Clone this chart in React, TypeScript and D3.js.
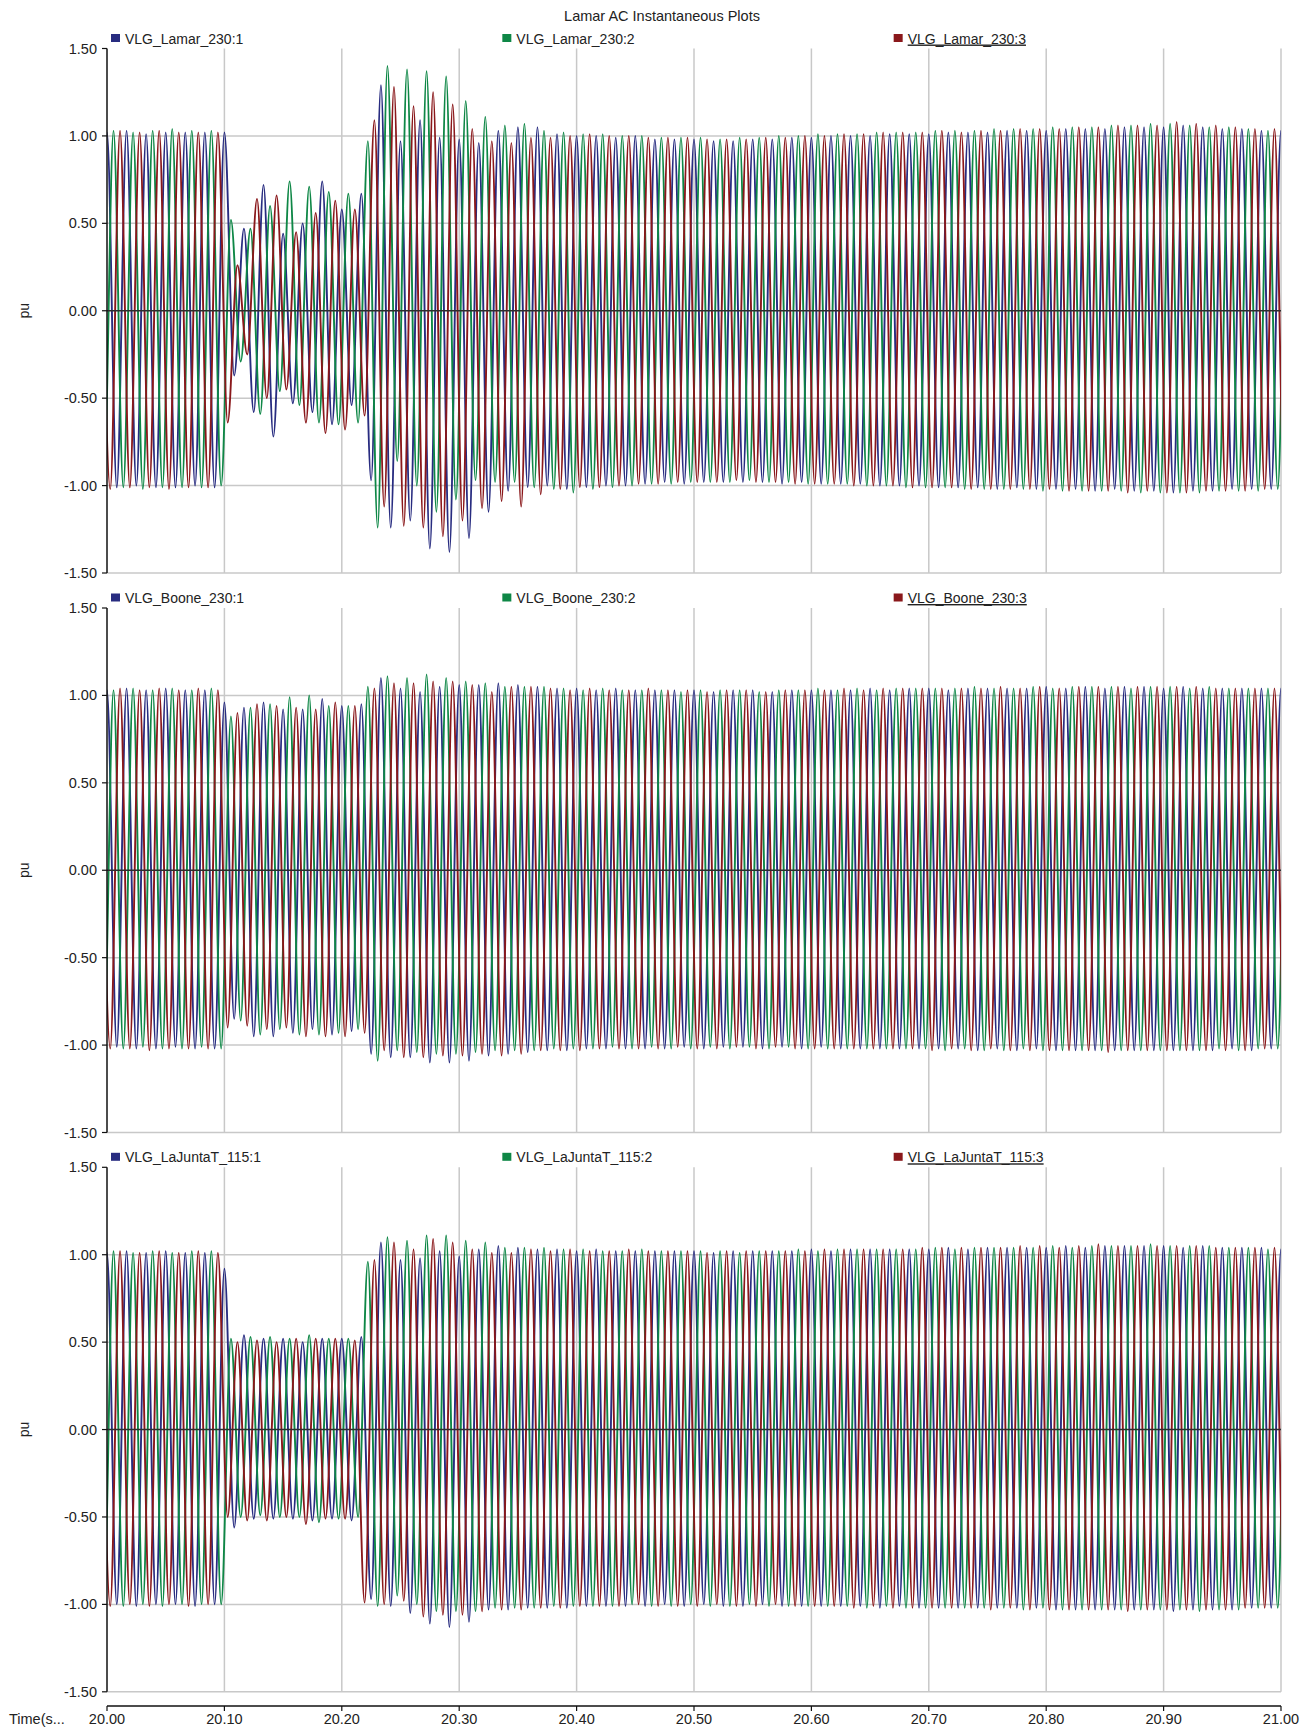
import React from "react";
import * as d3 from "d3";

// chart text
const chartTitle = "Lamar AC Instantaneous Plots";
const lamarNames = ["VLG_Lamar_230:1", "VLG_Lamar_230:2", "VLG_Lamar_230:3"];
const booneNames = ["VLG_Boone_230:1", "VLG_Boone_230:2", "VLG_Boone_230:3"];
const lajuntaNames = ["VLG_LaJuntaT_115:1", "VLG_LaJuntaT_115:2", "VLG_LaJuntaT_115:3"];
const yAxisLabel = "pu";
const xAxisLabel = "Time(s...";

const xTicks = [20.0, 20.1, 20.2, 20.3, 20.4, 20.5, 20.6, 20.7, 20.8, 20.9, 21.0];
const yTicks = [1.5, 1.0, 0.5, 0.0, -0.5, -1.0, -1.5];

// sampling of the traces: one value per half cycle (the crests and troughs),
// 60 Hz, phases 1/3 cycle apart; first listed value sits 1 cycle before 20.00
const startTime = 20.0;
const fundamentalHz = 60;
const phaseLagCycles = [0, 1 / 3, 2 / 3];

// crest/trough values (alternating +/-), 124 per phase
const lamarPh1 = [
  1.02, -1.01, 1.02, -1.01, 1.03, -1.00, 1.01, -1.01, 1.02, -1.01, 1.02, -1.00,
  1.02, -1.01, 1.02, -0.37, 0.47, -0.58, 0.72, -0.72, 0.44, -0.53, 0.50, -0.58,
  0.74, -0.65, 0.58, -0.54, 0.67, -0.97, 1.29, -1.24, 0.97, -1.20, 1.09, -1.36,
  0.99, -1.38, 0.98, -1.30, 0.96, -1.15, 1.03, -1.03, 1.05, -1.01, 1.05, -1.00,
  1.01, -1.02, 1.00, -1.01, 1.00, -1.00, 0.99, -1.00, 1.00, -0.99, 0.98, -0.98,
  0.98, -0.99, 0.98, -0.98, 0.97, -0.98, 0.97, -0.98, 0.98, -0.98, 0.98, -0.99,
  0.99, -0.98, 0.99, -0.99, 1.00, -0.99, 1.00, -0.99, 1.00, -1.00, 1.01, -1.00,
  1.01, -1.00, 1.01, -1.01, 1.02, -1.01, 1.02, -1.01, 1.02, -1.02, 1.03, -1.01,
  1.03, -1.02, 1.03, -1.02, 1.04, -1.02, 1.04, -1.03, 1.04, -1.02, 1.05, -1.03,
  1.05, -1.03, 1.05, -1.04, 1.06, -1.03, 1.05, -1.03, 1.04, -1.02, 1.04, -1.02,
  1.03, -1.02, 1.03, -1.02,
];
const lamarPh2 = [
  1.03, -1.01, 1.03, -1.01, 1.02, -1.02, 1.03, -1.01, 1.04, -1.01, 1.03, -1.01,
  1.03, -1.00, 0.52, -0.29, 0.47, -0.59, 0.60, -0.46, 0.74, -0.54, 0.71, -0.64,
  0.68, -0.65, 0.67, -0.64, 0.97, -1.24, 1.40, -0.86, 1.38, -1.00, 1.37, -1.15,
  1.34, -1.08, 1.20, -0.97, 1.11, -0.98, 1.06, -0.98, 1.07, -1.01, 1.03, -1.02,
  1.02, -1.04, 1.01, -1.02, 1.01, -1.01, 1.00, -1.00, 1.00, -0.99, 0.99, -0.99,
  0.99, -0.98, 0.99, -0.98, 0.98, -0.98, 0.99, -0.97, 0.99, -0.98, 1.00, -0.98,
  1.00, -0.99, 1.01, -0.99, 1.01, -0.99, 1.01, -1.00, 1.02, -1.00, 1.02, -1.01,
  1.02, -1.01, 1.03, -1.01, 1.03, -1.02, 1.03, -1.02, 1.04, -1.02, 1.04, -1.02,
  1.04, -1.03, 1.05, -1.03, 1.05, -1.03, 1.05, -1.03, 1.06, -1.03, 1.06, -1.04,
  1.07, -1.04, 1.07, -1.04, 1.06, -1.04, 1.05, -1.03, 1.05, -1.03, 1.04, -1.03,
  1.03, -1.02, 1.03, -1.02,
];
const lamarPh3 = [
  1.02, -1.02, 1.03, -1.01, 1.02, -1.01, 1.03, -1.02, 1.02, -1.01, 1.02, -1.01,
  1.02, -0.64, 0.26, -0.25, 0.64, -0.50, 0.66, -0.45, 0.45, -0.64, 0.56, -0.70,
  0.63, -0.68, 0.58, -0.60, 1.09, -1.12, 1.28, -1.23, 1.17, -1.24, 1.25, -1.29,
  1.18, -1.20, 1.04, -1.13, 0.97, -1.09, 0.96, -1.12, 0.99, -1.05, 0.99, -1.02,
  1.00, -1.01, 1.01, -1.01, 1.00, -1.00, 1.00, -0.99, 0.99, -0.99, 0.99, -0.98,
  0.99, -0.98, 0.98, -0.98, 0.98, -0.97, 0.98, -0.98, 0.99, -0.98, 0.99, -0.99,
  1.00, -0.99, 1.00, -0.99, 1.01, -1.00, 1.01, -1.00, 1.02, -1.00, 1.02, -1.01,
  1.02, -1.01, 1.03, -1.01, 1.02, -1.02, 1.03, -1.02, 1.03, -1.02, 1.04, -1.02,
  1.04, -1.02, 1.04, -1.03, 1.05, -1.03, 1.05, -1.03, 1.06, -1.04, 1.06, -1.03,
  1.06, -1.04, 1.08, -1.04, 1.07, -1.03, 1.06, -1.03, 1.05, -1.03, 1.04, -1.02,
  1.04, -1.02, 1.03, -1.02,
];

const boonePh1 = [
  1.03, -1.02, 1.03, -1.01, 1.04, -1.02, 1.03, -1.02, 1.04, -1.01, 1.03, -1.02,
  1.03, -1.02, 0.96, -0.85, 0.93, -0.95, 0.96, -0.95, 0.92, -0.93, 0.92, -0.91,
  0.98, -0.94, 0.94, -0.92, 0.95, -1.05, 1.10, -1.07, 1.04, -1.07, 1.02, -1.10,
  1.05, -1.10, 1.06, -1.09, 1.06, -1.06, 1.07, -1.05, 1.06, -1.04, 1.05, -1.03,
  1.04, -1.03, 1.04, -1.02, 1.03, -1.02, 1.04, -1.02, 1.03, -1.02, 1.03, -1.02,
  1.03, -1.01, 1.03, -1.02, 1.02, -1.01, 1.03, -1.01, 1.03, -1.02, 1.02, -1.01,
  1.03, -1.02, 1.03, -1.01, 1.03, -1.02, 1.03, -1.02, 1.04, -1.02, 1.03, -1.02,
  1.04, -1.02, 1.04, -1.02, 1.03, -1.02, 1.04, -1.03, 1.04, -1.02, 1.04, -1.03,
  1.04, -1.02, 1.05, -1.03, 1.04, -1.03, 1.05, -1.03, 1.04, -1.03, 1.05, -1.03,
  1.05, -1.03, 1.04, -1.03, 1.05, -1.03, 1.04, -1.03, 1.04, -1.02, 1.04, -1.03,
  1.04, -1.02, 1.04, -1.02,
];
const boonePh2 = [
  1.04, -1.01, 1.03, -1.02, 1.04, -1.01, 1.03, -1.02, 1.04, -1.02, 1.03, -1.01,
  1.04, -1.02, 0.88, -0.86, 0.93, -0.94, 0.95, -0.91, 0.99, -0.94, 1.00, -0.94,
  0.94, -0.93, 0.94, -0.91, 1.05, -1.09, 1.11, -1.03, 1.10, -1.04, 1.12, -1.05,
  1.10, -1.05, 1.08, -1.04, 1.07, -1.03, 1.05, -1.03, 1.05, -1.03, 1.05, -1.02,
  1.04, -1.02, 1.03, -1.02, 1.04, -1.01, 1.03, -1.02, 1.03, -1.01, 1.03, -1.02,
  1.02, -1.02, 1.03, -1.01, 1.03, -1.02, 1.03, -1.01, 1.02, -1.02, 1.03, -1.01,
  1.03, -1.02, 1.04, -1.02, 1.03, -1.02, 1.04, -1.02, 1.03, -1.02, 1.04, -1.02,
  1.04, -1.02, 1.04, -1.03, 1.04, -1.02, 1.05, -1.03, 1.04, -1.03, 1.04, -1.02,
  1.05, -1.03, 1.04, -1.03, 1.05, -1.03, 1.05, -1.03, 1.05, -1.03, 1.04, -1.03,
  1.05, -1.03, 1.05, -1.03, 1.04, -1.03, 1.05, -1.02, 1.04, -1.03, 1.04, -1.02,
  1.04, -1.02, 1.03, -1.02,
];
const boonePh3 = [
  1.03, -1.02, 1.04, -1.02, 1.03, -1.03, 1.04, -1.02, 1.03, -1.02, 1.04, -1.02,
  1.03, -0.90, 0.90, -0.89, 0.95, -0.91, 0.94, -0.90, 0.93, -0.95, 0.92, -0.95,
  0.96, -0.95, 0.94, -0.93, 1.04, -1.03, 1.07, -1.07, 1.07, -1.07, 1.08, -1.06,
  1.08, -1.06, 1.06, -1.05, 1.02, -1.06, 1.05, -1.05, 1.05, -1.03, 1.04, -1.03,
  1.03, -1.03, 1.04, -1.02, 1.03, -1.02, 1.03, -1.02, 1.04, -1.02, 1.03, -1.01,
  1.03, -1.02, 1.02, -1.02, 1.03, -1.01, 1.03, -1.02, 1.02, -1.01, 1.03, -1.02,
  1.03, -1.02, 1.03, -1.02, 1.04, -1.02, 1.03, -1.02, 1.04, -1.02, 1.04, -1.02,
  1.04, -1.03, 1.04, -1.02, 1.04, -1.03, 1.04, -1.02, 1.05, -1.03, 1.04, -1.03,
  1.05, -1.03, 1.04, -1.03, 1.05, -1.03, 1.05, -1.04, 1.05, -1.03, 1.05, -1.03,
  1.05, -1.03, 1.05, -1.03, 1.05, -1.03, 1.04, -1.03, 1.04, -1.03, 1.04, -1.02,
  1.04, -1.02, 1.03, -1.02,
];

const lajuntaPh1 = [
  1.02, -1.00, 1.01, -1.00, 1.02, -1.01, 1.01, -1.00, 1.02, -1.00, 1.01, -1.01,
  1.01, -1.00, 0.92, -0.56, 0.54, -0.51, 0.52, -0.51, 0.52, -0.51, 0.50, -0.52,
  0.52, -0.51, 0.52, -0.52, 0.53, -0.97, 1.07, -1.01, 0.97, -1.05, 0.98, -1.11,
  1.02, -1.13, 0.99, -1.10, 1.03, -1.03, 1.05, -1.03, 1.04, -1.02, 1.03, -1.02,
  1.03, -1.02, 1.02, -1.01, 1.03, -1.01, 1.02, -1.01, 1.02, -1.01, 1.02, -1.00,
  1.02, -1.01, 1.02, -1.00, 1.01, -1.01, 1.02, -1.01, 1.02, -1.00, 1.02, -1.01,
  1.02, -1.01, 1.03, -1.01, 1.02, -1.01, 1.03, -1.01, 1.03, -1.02, 1.03, -1.01,
  1.03, -1.02, 1.03, -1.02, 1.04, -1.02, 1.03, -1.02, 1.04, -1.02, 1.04, -1.02,
  1.04, -1.02, 1.04, -1.03, 1.05, -1.03, 1.04, -1.03, 1.05, -1.03, 1.05, -1.03,
  1.05, -1.03, 1.05, -1.04, 1.04, -1.03, 1.05, -1.03, 1.04, -1.03, 1.04, -1.02,
  1.04, -1.02, 1.03, -1.02,
];
const lajuntaPh2 = [
  1.02, -1.00, 1.02, -1.01, 1.01, -1.00, 1.02, -1.01, 1.01, -1.00, 1.02, -1.00,
  1.02, -1.00, 0.52, -0.50, 0.53, -0.49, 0.53, -0.50, 0.52, -0.50, 0.54, -0.53,
  0.52, -0.51, 0.52, -0.50, 0.96, -1.01, 1.10, -0.95, 1.08, -1.00, 1.11, -1.04,
  1.11, -1.04, 1.08, -1.04, 1.07, -1.02, 1.04, -1.02, 1.04, -1.02, 1.04, -1.01,
  1.03, -1.01, 1.03, -1.01, 1.02, -1.01, 1.02, -1.00, 1.03, -1.01, 1.02, -1.01,
  1.02, -1.00, 1.02, -1.01, 1.02, -1.01, 1.01, -1.00, 1.02, -1.01, 1.02, -1.01,
  1.03, -1.01, 1.02, -1.01, 1.03, -1.01, 1.03, -1.02, 1.03, -1.01, 1.03, -1.02,
  1.03, -1.02, 1.04, -1.02, 1.03, -1.02, 1.04, -1.02, 1.04, -1.02, 1.04, -1.03,
  1.04, -1.02, 1.05, -1.03, 1.04, -1.03, 1.05, -1.03, 1.05, -1.03, 1.05, -1.03,
  1.06, -1.03, 1.05, -1.03, 1.05, -1.04, 1.05, -1.03, 1.04, -1.03, 1.04, -1.02,
  1.03, -1.02, 1.03, -1.02,
];
const lajuntaPh3 = [
  1.01, -1.01, 1.02, -1.00, 1.01, -1.01, 1.02, -1.00, 1.01, -1.01, 1.02, -1.00,
  1.01, -0.50, 0.50, -0.52, 0.51, -0.52, 0.50, -0.50, 0.52, -0.54, 0.52, -0.51,
  0.52, -0.51, 0.51, -0.99, 0.97, -1.00, 1.07, -0.98, 1.03, -1.07, 1.09, -1.06,
  1.07, -1.06, 1.03, -1.04, 1.01, -1.03, 1.01, -1.03, 1.03, -1.02, 1.02, -1.02,
  1.03, -1.01, 1.02, -1.01, 1.02, -1.01, 1.03, -1.00, 1.02, -1.01, 1.02, -1.01,
  1.02, -1.01, 1.01, -1.00, 1.02, -1.01, 1.02, -1.01, 1.02, -1.00, 1.02, -1.01,
  1.02, -1.01, 1.03, -1.01, 1.03, -1.02, 1.03, -1.01, 1.03, -1.02, 1.03, -1.02,
  1.04, -1.02, 1.04, -1.02, 1.04, -1.02, 1.04, -1.03, 1.04, -1.02, 1.05, -1.03,
  1.05, -1.03, 1.04, -1.03, 1.05, -1.03, 1.06, -1.03, 1.05, -1.04, 1.05, -1.03,
  1.05, -1.03, 1.05, -1.03, 1.05, -1.03, 1.04, -1.03, 1.04, -1.02, 1.04, -1.02,
  1.04, -1.02, 1.03, -1.02,
];

const phaseColors = ["#282c80", "#0e8746", "#8a181b"];

const panels = [
  { names: lamarNames, series: [lamarPh1, lamarPh2, lamarPh3] },
  { names: booneNames, series: [boonePh1, boonePh2, boonePh3] },
  { names: lajuntaNames, series: [lajuntaPh1, lajuntaPh2, lajuntaPh3] },
];

const W = 1307;
const H = 1730;
const plotLeft = 107;
const plotRight = 1281;
const panelTops = [48.5, 608, 1167.3];
const panelH = 524.5;
const xAxisY = 1706;
const font = "'Liberation Sans', Arial, Helvetica, sans-serif";

const Panel = ({idx}: {idx: number}) => {
    const top = panelTops[idx];
    const {names, series} = panels[idx];

    const x = d3.scaleLinear().domain([20, 21]).range([plotLeft, plotRight]);
    const y = d3.scaleLinear().domain([-1.5, 1.5]).range([top + panelH, top]);

    const crestTime = (phase: number, k: number) =>
        startTime + (phaseLagCycles[phase] + (k - 2) / 2) / fundamentalHz;

    const legendStep = (plotRight - plotLeft) / 3;
    const clipId = `clip-${idx}`;

    return (
        <g>
            <defs>
                <clipPath id={clipId}>
                    <rect x={plotLeft} y={top - 2} width={plotRight - plotLeft} height={panelH + 4}/>
                </clipPath>
            </defs>

            {/* grid */}
            {xTicks.slice(1).map(t => (
                <line key={"gx" + t} x1={x(t)} x2={x(t)} y1={top} y2={top + panelH}
                      stroke="#c8c8c8" strokeWidth={1.5}/>
            ))}
            {yTicks.filter(v => v !== 1.5 && v !== 0).map(v => (
                <line key={"gy" + v} x1={plotLeft} x2={plotRight} y1={y(v)} y2={y(v)}
                      stroke="#c8c8c8" strokeWidth={1.5}/>
            ))}

            {/* traces */}
            <g clipPath={`url(#${clipId})`}>
                {series.map((vals, p) => {
                    const line = d3.line<number>()
                        .x((v, k) => x(crestTime(p, k)))
                        .y(v => y(v))
                        .curve(d3.curveMonotoneX);
                    return <path key={p} d={line(vals) || ""} fill="none"
                                 stroke={phaseColors[p]} strokeWidth={1.9} strokeLinejoin="round"/>;
                })}
            </g>

            <line x1={plotLeft} x2={plotRight} y1={y(0)} y2={y(0)} stroke="#2e2e2e" strokeWidth={1.5}/>

            {/* y axis */}
            <line x1={plotLeft} x2={plotLeft} y1={top} y2={top + panelH} stroke="#111" strokeWidth={1.5}/>
            {yTicks.map(v => (
                <g key={"ty" + v}>
                    <line x1={plotLeft - 5} x2={plotLeft} y1={y(v)} y2={y(v)} stroke="#111" strokeWidth={1.2}/>
                    <text x={97} y={y(v) + 5} textAnchor="end" fontSize={14.5} fill="#222"
                          fontFamily={font}>{v.toFixed(2)}</text>
                </g>
            ))}
            <text transform={`translate(29, ${top + panelH / 2}) rotate(-90)`} textAnchor="middle"
                  fontSize={14} fill="#222" fontFamily={font}>{yAxisLabel}</text>

            {/* legend */}
            {names.map((name, p) => (
                <g key={name} transform={`translate(${plotLeft + 4 + p * legendStep}, ${top - 10})`}>
                    <rect x={0} y={-4.5} width={9} height={8} fill={phaseColors[p]}/>
                    <text x={14} y={5} fontSize={14} fill="#222" fontFamily={font}
                          textDecoration={p === 2 ? "underline" : undefined}>{name}</text>
                </g>
            ))}
        </g>
    );
};

const App = () => {
    const x = d3.scaleLinear().domain([20, 21]).range([plotLeft, plotRight]);

    return (
        <svg width={W} height={H} style={{position: "absolute", left: 0, top: 0, background: "#fff"}}>
            <rect width={W} height={H} fill="#fff"/>
            <text x={662} y={21} textAnchor="middle" fontSize={14.5} fill="#222" fontFamily={font}>
                {chartTitle}
            </text>

            {panels.map((_, i) => <Panel key={i} idx={i}/>)}

            {/* time axis */}
            <line x1={plotLeft} x2={plotRight} y1={xAxisY} y2={xAxisY} stroke="#111" strokeWidth={1.5}/>
            {xTicks.map(t => (
                <g key={"tx" + t}>
                    <line x1={x(t)} x2={x(t)} y1={xAxisY} y2={xAxisY + 5} stroke="#111" strokeWidth={1.2}/>
                    <text x={x(t)} y={1724} textAnchor="middle" fontSize={14.5} fill="#222"
                          fontFamily={font}>{t.toFixed(2)}</text>
                </g>
            ))}
            <text x={9} y={1724} fontSize={14.5} fill="#222" fontFamily={font}>{xAxisLabel}</text>
        </svg>
    );
};

export default App;
